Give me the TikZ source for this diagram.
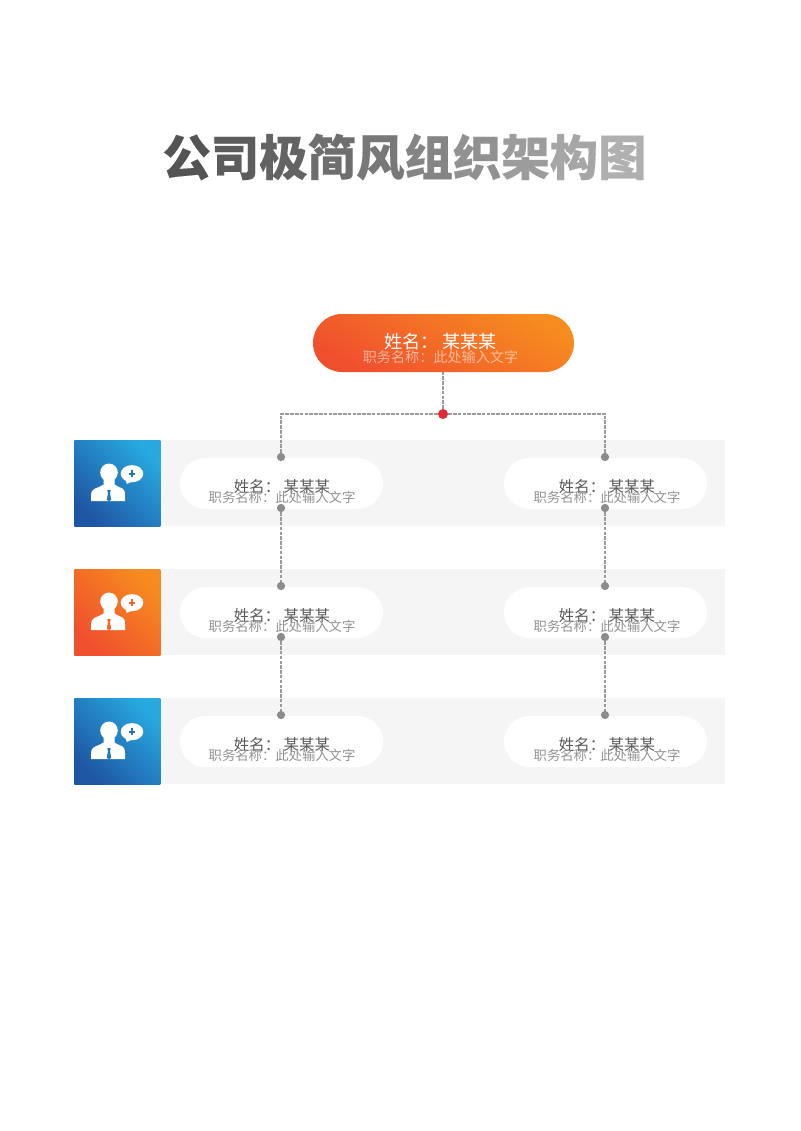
\documentclass[tikz,border=0pt]{standalone}
\usepackage{fontspec}
\usetikzlibrary{shapes.misc}
\setmainfont{Noto Sans CJK SC}
\newfontfamily\cjk{Noto Sans CJK SC}
\newfontfamily\titlef{Noto Sans CJK SC}[BoldFeatures={FakeBold=0.3}]
\definecolor{orA}{HTML}{F04F2E}
\definecolor{orB}{HTML}{F68B1F}
\definecolor{blA}{HTML}{1F56A3}
\definecolor{blB}{HTML}{27A8DF}
\definecolor{rowbg}{HTML}{F5F5F5}
\definecolor{linec}{HTML}{9A9A9A}
\definecolor{dotc}{HTML}{8C8C8C}
\definecolor{redc}{HTML}{E32B36}
\definecolor{namec}{HTML}{5A5A5A}
\definecolor{rolec}{HTML}{929292}
\newcommand{\tch}[2]{\textcolor[gray]{#1}{#2}}
\tikzset{
  x=0.75pt,y=-0.75pt,
  rowband/.style={fill=rowbg,draw=none,rectangle,inner sep=0pt,minimum width=651*0.75pt,minimum height=86*0.75pt,anchor=north west},
  iconbox/.style={rectangle,inner sep=0pt,minimum width=86*0.75pt,minimum height=86*0.75pt,anchor=north west,draw=none},
  bluegrad/.style={bottom color=blA,top color=blB,shading angle=-45},
  orangegrad/.style={bottom color=orA,top color=orB,shading angle=-45},
  pillbox/.style={rounded rectangle,fill=white,draw=none,inner sep=0pt,minimum width=203*0.75pt,minimum height=51*0.75pt},
  toppill/.style={rounded rectangle,draw=none,inner sep=0pt,minimum width=261*0.75pt,minimum height=58*0.75pt,bottom color=orA,top color=orB,shading angle=-30},
  nametext/.style={font=\cjk\fontsize{11.6}{12}\selectfont,text=namec,inner sep=0pt},
  roletext/.style={font=\cjk\fontsize{10}{11}\selectfont,text=rolec,inner sep=0pt},
  topname/.style={font=\cjk\fontsize{13.6}{14}\selectfont,text=white,inner sep=0pt},
  toprole/.style={font=\cjk\fontsize{10.6}{12}\selectfont,text=white,opacity=.55,inner sep=0pt},
  dash line/.style={draw=linec,line width=0.9pt,dash pattern=on 2.6pt off 1pt},
  dotn/.style={circle,fill=dotc,draw=none,minimum size=6.2pt,inner sep=0pt},
  reddot/.style={circle,fill=redc,draw=none,minimum size=7.5pt,inner sep=0pt},
}
% person icon, (#1,#2) = top-left corner of the icon square, #3 = colour of the tie and plus sign
\newcommand{\personicon}[3]{%
  \begin{scope}[shift={(#1,#2)}]
    \fill[white] (35,32.5) ellipse (8.8 and 9);
    \fill[white] (17,61) -- (17,55) .. controls (17,50.5) and (20,48.5) .. (25,47) -- (29.5,44.5) -- (29.5,36) -- (40.5,36) -- (40.5,44.5) -- (45,47) .. controls (50,48.5) and (51,50.5) .. (51,55) -- (51,61) -- cycle;
    \fill[#3] (33.2,50) -- (36.8,50) -- (36,53) -- (37.2,60) -- (35,61) -- (32.8,60) -- (34,53) -- cycle;
    \fill[white] (58,33.7) ellipse (11.3 and 8.6);
    \fill[white] (51,37) -- (52.7,44) -- (59,41) -- cycle;
    \draw[#3,line width=1.2pt] (58,30.4) -- (58,37) (54.7,33.7) -- (61.3,33.7);
  \end{scope}}
% #1 id, #2 centre x of pill, #3 top y of pill, #4 text centre x
\newcommand{\card}[4]{%
  \node[pillbox] (pill#1) at (#2,#3+25.5) {};
  \node[nametext] (name#1) at (#4,#3+29) {姓名：\ 某某某};
  \node[roletext] (role#1) at (#4,#3+39.5) {职务名称：此处输入文字};
}
\begin{document}
\begin{tikzpicture}
\useasboundingbox (0,0) rectangle (800,1131);
\fill[white] (0,0) rectangle (800,1131);
% title
\node[font=\titlef\bfseries\fontsize{36.3}{36}\selectfont,inner sep=0pt,text=black] (title) at (404.5,157)
 {\tch{.33}{公}\tch{.36}{司}\tch{.39}{极}\tch{.43}{简}\tch{.47}{风}\tch{.52}{组}\tch{.57}{织}\tch{.61}{架}\tch{.65}{构}\tch{.69}{图}};
% rows
\node[rowband] (row1) at (74,440) {};
\node[rowband] (row2) at (74,569) {};
\node[rowband] (row3) at (74,698) {};
\node[iconbox,bluegrad] (icon1) at (74,440) {};
\node[iconbox,orangegrad] (icon2) at (74,569) {};
\node[iconbox,bluegrad] (icon3) at (74,698) {};
\personicon{74}{440}{blA!60!blB}
\personicon{74}{569}{orA!60!orB}
\personicon{74}{698}{blA!60!blB}
% top card
\node[toppill] (top) at (443.5,343) {};
\node[topname] (topn) at (440.5,342) {姓名：\ 某某某};
\node[toprole] (topr) at (440.5,357) {职务名称：此处输入文字};
% cards
\card{a}{281.5}{458}{282}
\card{b}{605.5}{458}{607}
\card{c}{281.5}{587}{282}
\card{d}{605.5}{587}{607}
\card{e}{281.5}{716}{282}
\card{f}{605.5}{716}{607}
% dots
\node[reddot] (hub) at (443,414) {};
\node[dotn] (a1) at (281,457) {};
\node[dotn] (a2) at (281,508) {};
\node[dotn] (c1) at (281,586) {};
\node[dotn] (c2) at (281,637) {};
\node[dotn] (e1) at (281,715) {};
\node[dotn] (b1) at (605,457) {};
\node[dotn] (b2) at (605,508) {};
\node[dotn] (d1) at (605,586) {};
\node[dotn] (d2) at (605,637) {};
\node[dotn] (f1) at (605,715) {};
% connectors
\draw[dash line] (hub) -- (top.south -| hub);
\draw[dash line] (hub) -| (a1);
\draw[dash line] (hub) -| (b1);
\draw[dash line] (a2) -- (c1);
\draw[dash line] (c2) -- (e1);
\draw[dash line] (b2) -- (d1);
\draw[dash line] (d2) -- (f1);
\end{tikzpicture}
\end{document}
